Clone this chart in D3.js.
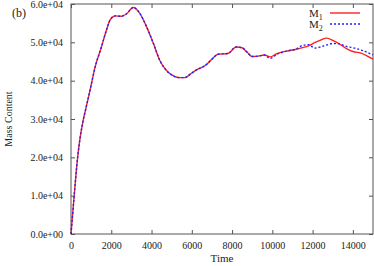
<!DOCTYPE html>
<html>
<head>
<meta charset="utf-8">
<script src="https://cdn.jsdelivr.net/npm/d3@7"></script>
<style>
  body { margin: 0; background: #fff; }
  text { font-family: "Liberation Serif", "DejaVu Serif", serif; fill: #222; }
</style>
</head>
<body>
<svg id="chart" width="374" height="266"></svg>
<script>
// time samples
var times = [0, 150, 330, 450, 600, 750, 950, 1200, 1500, 1750, 1950, 2200, 2500, 2750, 3100, 3400,
  3750, 4100, 4400, 4700, 5000, 5400, 5650, 6000, 6300, 6650, 7000, 7300, 7800, 8200, 8500, 8750,
  9000, 9300, 9600, 9900, 10200, 10500, 10800, 11200, 11500, 11800, 12100, 12400, 12700, 13000,
  13300, 13700, 14000, 14400, 15000];

var m1 = [0, 9500, 20000, 25000, 29500, 33000, 37600, 43600, 48600, 53000, 55900, 56900, 56800, 57400,
  59100, 57700, 54100, 49600, 45400, 42900, 41500, 40800, 40800, 42000, 43000, 43900, 45600, 46900,
  47100, 48800, 48600, 47400, 46300, 46400, 46700, 46200, 47000, 47500, 47800, 48200, 48600, 49100,
  49900, 50600, 51100, 50500, 49700, 48300, 47600, 47200, 45600];

var m2 = [0, 9500, 20000, 25000, 29500, 33000, 37600, 43600, 48600, 53000, 55900, 56900, 56800, 57400,
  59100, 57700, 54100, 49600, 45400, 42900, 41500, 40800, 40800, 42000, 43000, 43900, 45600, 46900,
  47100, 48800, 48600, 47400, 46300, 46400, 46700, 45800, 46800, 47400, 47800, 48300, 49200, 49400,
  48500, 48800, 49300, 49700, 49600, 48900, 48600, 48000, 46700];

var xTicks = [0, 2000, 4000, 6000, 8000, 10000, 12000, 14000];
var yTicks = [0, 10000, 20000, 30000, 40000, 50000, 60000];

var plotL = 71, plotR = 373, plotT = 4, plotB = 234;

var svg = d3.select("#chart");

var x = d3.scaleLinear().domain([0, 15000]).range([plotL, plotR]);
var y = d3.scaleLinear().domain([0, 60000]).range([plotB, plotT]);

var fmt = function(d) {
  var e = d3.format(".1e")(d); // e.g. 1.0e+4
  return e.replace(/e([+-])(\d)$/, "e$10$2");
};

// axes with inward ticks, mirrored on top/right
function styleAxis(g) {
  g.select(".domain").remove();
  g.selectAll("line").attr("stroke", "#555");
  g.selectAll("text").attr("font-size", 10).attr("fill", "#222")
    .style("font-family", '"Liberation Serif", serif');
}

svg.append("g").attr("transform", "translate(0," + plotB + ")")
  .call(d3.axisBottom(x).tickValues(xTicks).tickSize(-4).tickPadding(8).tickFormat(d3.format("d")))
  .call(styleAxis);
svg.append("g").attr("transform", "translate(0," + plotT + ")")
  .call(d3.axisTop(x).tickValues(xTicks).tickSize(-4).tickFormat(""))
  .call(styleAxis);
svg.append("g").attr("transform", "translate(" + plotL + ",0)")
  .call(d3.axisLeft(y).tickValues(yTicks).tickSize(-4).tickPadding(8).tickFormat(fmt))
  .call(styleAxis);
svg.append("g").attr("transform", "translate(" + plotR + ",0)")
  .call(d3.axisRight(y).tickValues(yTicks).tickSize(-4).tickFormat(""))
  .call(styleAxis);

// frame
svg.append("rect")
  .attr("x", plotL).attr("y", plotT)
  .attr("width", plotR - plotL).attr("height", plotB - plotT)
  .attr("fill", "none").attr("stroke", "#555").attr("stroke-width", 1);

var line = d3.line().curve(d3.curveMonotoneX);

svg.append("path")
  .attr("d", line(times.map(function(t, i) { return [x(t), y(m1[i])]; })))
  .attr("fill", "none").attr("stroke", "#ff2020").attr("stroke-width", 1.4);

svg.append("path")
  .attr("d", line(times.map(function(t, i) { return [x(t), y(m2[i])]; })))
  .attr("fill", "none").attr("stroke", "#2020ff").attr("stroke-width", 1.4)
  .attr("stroke-dasharray", "2,2");

// legend
var leg = svg.append("g");
[["1", "#ff2020", null, 13], ["2", "#2020ff", "2,2", 24]].forEach(function(l) {
  var t = leg.append("text").attr("x", 309).attr("y", l[3] + 4).attr("font-size", 11);
  t.append("tspan").text("M");
  t.append("tspan").attr("font-size", 8).attr("dy", 3).text(l[0]);
  leg.append("line").attr("x1", 330).attr("x2", 360).attr("y1", l[3]).attr("y2", l[3])
    .attr("stroke", l[1]).attr("stroke-width", 1.4).attr("stroke-dasharray", l[2]);
});

// labels
svg.append("text").attr("x", 12).attr("y", 17).attr("font-size", 12).text("(b)");
svg.append("text").attr("x", (plotL + plotR) / 2).attr("y", 262).attr("text-anchor", "middle")
  .attr("font-size", 11).text("Time");
svg.append("text").attr("transform", "translate(12," + (plotT + plotB) / 2 + ") rotate(-90)")
  .attr("text-anchor", "middle").attr("font-size", 10).text("Mass Content");
</script>
</body>
</html>
